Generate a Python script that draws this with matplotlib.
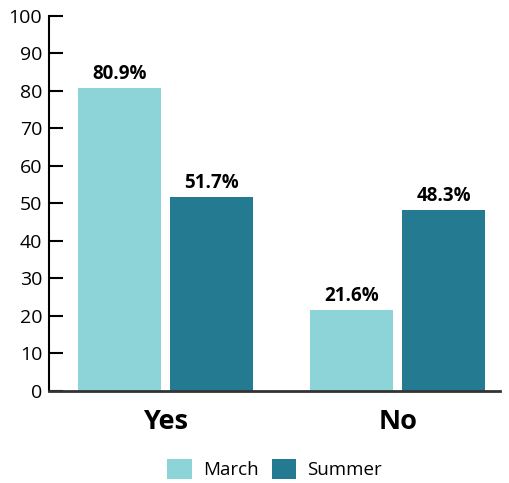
import numpy as np
import matplotlib.pyplot as plt

plt.rcParams['font.family'] = ['Open Sans', 'DejaVu Sans']

# survey answers, percent of respondents
answers = ["Yes", "No"]
march = [80.9, 21.6]
summer = [51.7, 48.3]
series_names = ["March", "Summer"]

fig = plt.figure(figsize=(5.09, 4.83), dpi=100)
ax = fig.add_axes([0.0963, 0.1905, 0.886, 0.7765])

x = np.arange(len(answers))
width = 0.357
off = 0.198
b1 = ax.bar(x - off, march, width, color="#8dd4d8", label=series_names[0])
b2 = ax.bar(x + off, summer, width, color="#237a91", label=series_names[1])

for bars, vals in [(b1, march), (b2, summer)]:
    for rect, v in zip(bars, vals):
        ax.text(rect.get_x() + rect.get_width() / 2, v + 1.0, f"{v}%",
                ha="center", va="bottom", fontsize=13.5, fontweight="bold")

ax.set_xlim(-0.501, 1.439)
ax.set_ylim(0, 100)
ax.set_yticks(range(0, 101, 10))
ax.set_xticks(x)
ax.set_xticklabels(answers, fontsize=19.5, fontweight="bold")
ax.tick_params(axis="y", direction="in", length=10, width=1.5, labelsize=14, pad=5)
ax.tick_params(axis="x", length=0, pad=13)

for s in ["top", "right"]:
    ax.spines[s].set_visible(False)
ax.spines["left"].set_linewidth(1.5)
ax.spines["bottom"].set_linewidth(2)
ax.spines["bottom"].set_color("#333333")

fig.legend(loc="lower center", bbox_to_anchor=(0.54, -0.027), ncol=2, frameon=False,
           fontsize=13.5, handlelength=1.3, handleheight=1.3, columnspacing=0.7,
           handletextpad=0.6)

fig.savefig("out.png", dpi=100)
